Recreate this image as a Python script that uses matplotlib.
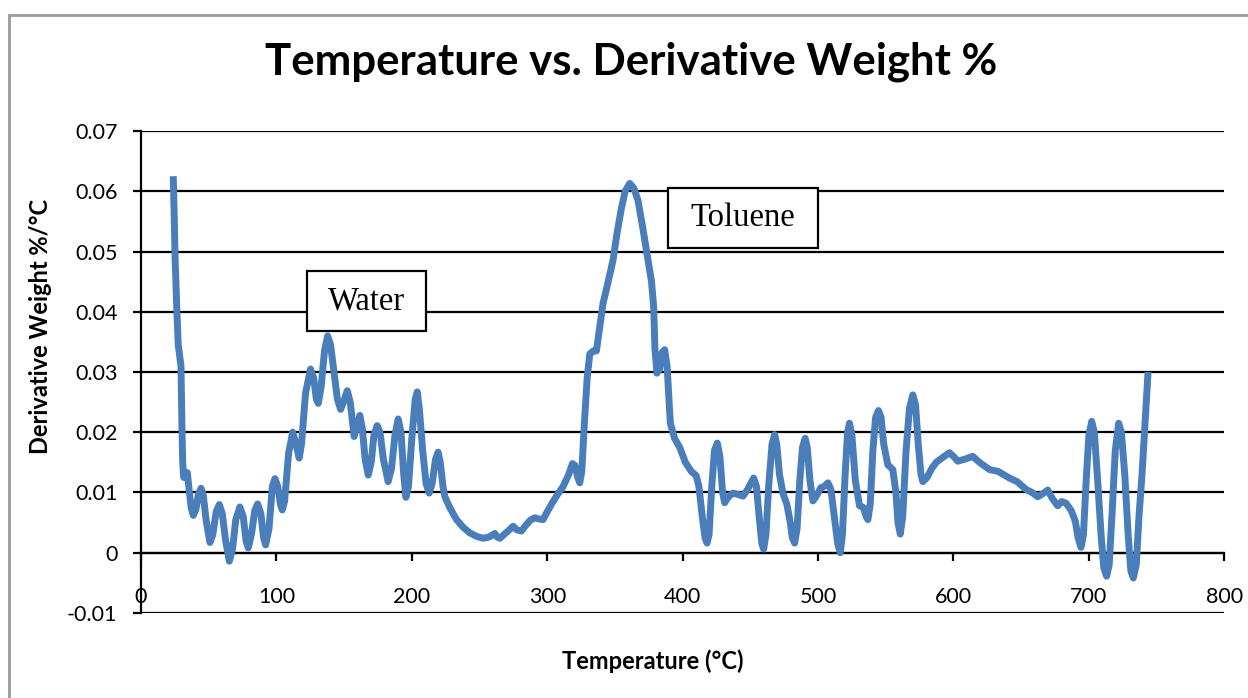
import matplotlib
matplotlib.use("Agg")
import matplotlib.pyplot as plt
from matplotlib.patches import Rectangle

# TGA derivative curve (temperature in C, derivative weight in %/C)
temperature = [
    23.8, 24.5, 25.2, 26.5, 27.5, 29.5, 30.3, 30.8, 31.5, 33.0, 34.2, 35.5, 37.0, 38.6,
    40.5, 42.5, 44.3, 46.0, 48.0, 50.9, 53.0, 55.5, 57.8, 60.0, 62.5, 65.2, 67.5, 70.0,
    73.0, 75.5, 77.5, 79.2, 81.5, 84.0, 86.1, 88.5, 90.5, 92.0, 94.5, 97.0, 98.9, 101.0,
    103.0, 104.3, 106.0, 109.0, 112.0, 114.5, 116.8, 118.5, 121.5, 125.2, 127.5, 129.5,
    130.9, 133.0, 135.5, 137.8, 140.0, 142.5, 145.0, 147.4, 149.5, 152.3, 154.5, 157.4,
    159.5, 161.6, 163.5, 165.5, 167.8, 170.0, 172.0, 174.4, 176.5, 179.0, 182.5, 185.0,
    187.5, 189.9, 192.0, 194.0, 195.6, 197.5, 200.0, 202.5, 204.0, 205.5, 208.0, 210.5,
    212.8, 215.0, 217.5, 219.4, 221.0, 223.0, 224.4, 228.0, 233.0, 238.0, 242.8, 248.0,
    252.6, 257.0, 261.3, 263.0, 265.0, 268.0, 271.0, 274.8, 277.5, 280.9, 284.0, 287.5,
    290.8, 294.0, 296.9, 300.0, 304.3, 308.0, 311.7, 315.5, 318.6, 320.5, 322.5, 324.0,
    325.5, 327.7, 329.5, 331.4, 334.0, 336.3, 338.5, 341.2, 344.5, 348.6, 351.5, 354.8,
    357.5, 360.9, 364.0, 367.0, 370.5, 374.4, 377.0, 378.6, 379.5, 381.0, 383.0, 385.0,
    386.7, 388.5, 390.0, 390.9, 394.0, 397.8, 402.0, 406.4, 410.0, 412.0, 414.5, 416.5,
    418.0, 419.5, 421.5, 423.5, 425.6, 427.5, 429.5, 431.0, 433.5, 437.1, 440.5, 444.5,
    448.0, 452.4, 454.5, 456.5, 458.5, 459.8, 461.5, 463.5, 466.0, 467.9, 469.5, 471.5,
    474.0, 477.0, 479.5, 481.0, 482.7, 484.5, 486.5, 488.5, 490.5, 492.0, 494.0, 496.2,
    499.0, 502.0, 504.5, 507.3, 509.5, 512.0, 514.5, 516.4, 518.0, 520.0, 521.8, 523.2,
    525.0, 527.5, 530.6, 533.5, 535.5, 536.8, 538.5, 540.5, 542.5, 544.6, 546.5, 548.5,
    551.5, 555.2, 557.5, 559.0, 560.7, 562.5, 565.0, 567.5, 570.0, 572.0, 574.0, 576.0,
    577.4, 580.5, 584.0, 587.2, 592.0, 597.0, 600.0, 603.2, 608.0, 614.2, 619.2, 626.6,
    633.0, 641.3, 647.0, 653.6, 658.0, 662.2, 666.0, 669.6, 673.0, 677.0, 680.0, 683.2,
    687.0, 690.0, 692.0, 694.2, 696.0, 698.0, 700.0, 702.1, 704.0, 706.5, 709.0, 711.0,
    713.1, 715.0, 717.0, 719.5, 722.0, 724.0, 726.5, 729.0, 731.0, 732.8, 735.0, 737.0,
    739.3, 741.5, 743.7,
]
deriv_weight = [
    0.0625, 0.0560, 0.0486, 0.0400, 0.0345, 0.0310, 0.0200, 0.0150, 0.0125, 0.0128, 0.0133,
    0.0105, 0.0075, 0.0062, 0.0072, 0.0098, 0.0107, 0.0095, 0.0055, 0.0017, 0.0030, 0.0068,
    0.0080, 0.0065, 0.0020, -0.0014, 0.0005, 0.0055, 0.0076, 0.0060, 0.0020, 0.0008, 0.0030,
    0.0070, 0.0081, 0.0065, 0.0025, 0.0013, 0.0040, 0.0110, 0.0123, 0.0110, 0.0080, 0.0071,
    0.0085, 0.0165, 0.0200, 0.0180, 0.0157, 0.0180, 0.0265, 0.0305, 0.0290, 0.0255, 0.0248,
    0.0275, 0.0335, 0.0360, 0.0345, 0.0300, 0.0255, 0.0238, 0.0250, 0.0269, 0.0250, 0.0193,
    0.0210, 0.0228, 0.0205, 0.0155, 0.0129, 0.0150, 0.0195, 0.0211, 0.0200, 0.0155, 0.0118,
    0.0140, 0.0195, 0.0222, 0.0200, 0.0130, 0.0092, 0.0110, 0.0190, 0.0255, 0.0267, 0.0240,
    0.0170, 0.0115, 0.0099, 0.0115, 0.0155, 0.0167, 0.0150, 0.0110, 0.0093, 0.0075, 0.0055,
    0.0042, 0.0033, 0.0027, 0.0024, 0.0026, 0.0032, 0.0026, 0.0024, 0.0030, 0.0036, 0.0044,
    0.0038, 0.0036, 0.0045, 0.0054, 0.0058, 0.0056, 0.0055, 0.0068, 0.0085, 0.0098, 0.0110,
    0.0128, 0.0148, 0.0145, 0.0125, 0.0116, 0.0135, 0.0226, 0.0290, 0.0330, 0.0335, 0.0335,
    0.0370, 0.0414, 0.0445, 0.0486, 0.0530, 0.0572, 0.0600, 0.0613, 0.0605, 0.0585, 0.0540,
    0.0486, 0.0450, 0.0408, 0.0340, 0.0298, 0.0305, 0.0333, 0.0337, 0.0310, 0.0250, 0.0215,
    0.0190, 0.0175, 0.0150, 0.0135, 0.0128, 0.0110, 0.0060, 0.0025, 0.0016, 0.0030, 0.0110,
    0.0170, 0.0182, 0.0160, 0.0100, 0.0083, 0.0092, 0.0099, 0.0097, 0.0094, 0.0105, 0.0124,
    0.0110, 0.0060, 0.0015, 0.0006, 0.0030, 0.0110, 0.0180, 0.0196, 0.0180, 0.0130, 0.0099,
    0.0080, 0.0050, 0.0025, 0.0016, 0.0040, 0.0120, 0.0175, 0.0190, 0.0175, 0.0120, 0.0086,
    0.0095, 0.0108, 0.0110, 0.0116, 0.0105, 0.0060, 0.0015, 0.0000, 0.0030, 0.0130, 0.0200,
    0.0215, 0.0195, 0.0120, 0.0078, 0.0075, 0.0060, 0.0055, 0.0080, 0.0170, 0.0225, 0.0236,
    0.0225, 0.0180, 0.0146, 0.0138, 0.0100, 0.0050, 0.0031, 0.0060, 0.0170, 0.0240, 0.0262,
    0.0245, 0.0180, 0.0130, 0.0118, 0.0125, 0.0140, 0.0150, 0.0158, 0.0166, 0.0160, 0.0152,
    0.0155, 0.0160, 0.0150, 0.0138, 0.0135, 0.0124, 0.0118, 0.0105, 0.0100, 0.0093, 0.0098,
    0.0104, 0.0090, 0.0078, 0.0085, 0.0082, 0.0070, 0.0052, 0.0025, 0.0009, 0.0030, 0.0120,
    0.0195, 0.0218, 0.0200, 0.0120, 0.0030, -0.0025, -0.0039, -0.0020, 0.0060, 0.0170,
    0.0215, 0.0200, 0.0130, 0.0030, -0.0030, -0.0042, -0.0020, 0.0060, 0.0132, 0.0215,
    0.0300,
]

x_ticks = [0, 100, 200, 300, 400, 500, 600, 700, 800]
y_ticks = [-0.01, 0, 0.01, 0.02, 0.03, 0.04, 0.05, 0.06, 0.07]
y_tick_labels = ["-0.01", "0", "0.01", "0.02", "0.03", "0.04", "0.05", "0.06", "0.07"]

# (label, left, right, bottom, top) in data units
callouts = [
    ("Water", 122.3, 210.1, 0.0368, 0.0468),
    ("Toluene", 388.9, 499.6, 0.0506, 0.0605),
]

plt.rcParams["font.family"] = ["Lato", "DejaVu Sans"]

fig = plt.figure(figsize=(12.48, 6.98), dpi=100)
ax = fig.add_axes([0.113, 0.1218, 0.868, 0.6905])

# gray frame around the chart area
fig.patches.append(Rectangle((9 / 1248, -0.05), 1.2, 1 - 15 / 698 + 0.05,
                             transform=fig.transFigure, fill=False,
                             edgecolor="#9a9a9a", linewidth=2))

ax.plot(temperature, deriv_weight, color="#4a7ebb", linewidth=5,
        solid_joinstyle="round", solid_capstyle="butt", zorder=3)

ax.set_xlim(0, 800)
ax.set_ylim(-0.01, 0.07)

ax.set_yticks(y_ticks)
ax.set_yticklabels(y_tick_labels)
ax.set_xticks(x_ticks)
ax.yaxis.grid(True, color="black", linewidth=1.6)
ax.set_axisbelow(True)

for side in ["top", "right"]:
    ax.spines[side].set_visible(False)
ax.spines["bottom"].set_position(("data", 0))
ax.spines["bottom"].set_linewidth(1.6)
ax.spines["left"].set_linewidth(1.6)

ax.tick_params(axis="both", direction="out", length=6, width=1.6, labelsize=15.5)
ax.tick_params(axis="x", pad=18.5)
ax.tick_params(axis="y", pad=11)

for label, x0, x1, y0, y1 in callouts:
    ax.add_patch(Rectangle((x0, y0), x1 - x0, y1 - y0, facecolor="white",
                           edgecolor="black", linewidth=1.6, zorder=4))
    ax.text((x0 + x1) / 2, (y0 + y1) / 2, label, ha="center", va="center",
            fontsize=23.5, family="Liberation Serif", zorder=5)

fig.text(631.5 / 1248, 1 - 62 / 698, "Temperature vs. Derivative Weight %",
         ha="center", va="center", fontsize=31.5, fontweight="bold")
fig.text(653 / 1248, 1 - 661 / 698, "Temperature (°C)",
         ha="center", va="center", fontsize=17, fontweight="bold")
fig.text(41 / 1248, 1 - 326 / 698, "Derivative Weight %/°C", rotation=90,
         ha="center", va="center", fontsize=17, fontweight="bold")

fig.savefig("out.png", dpi=100)
